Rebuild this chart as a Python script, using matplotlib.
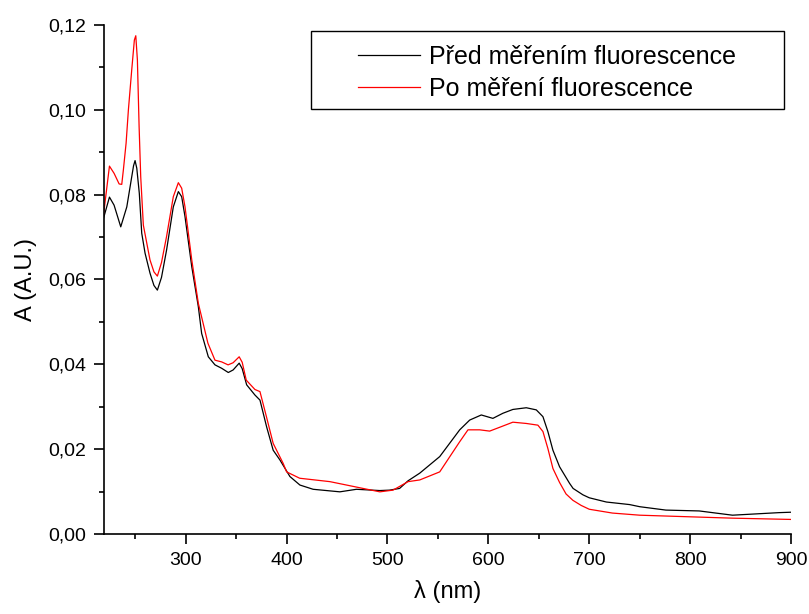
import numpy as np
import matplotlib.pyplot as plt
from matplotlib.ticker import MultipleLocator, FuncFormatter
from matplotlib.patches import Rectangle

plt.rcParams['font.family'] = ['Liberation Sans', 'DejaVu Sans']

# spectrum before fluorescence measurement (black)
wl_pred = [218.5, 224.4, 229, 235.6, 241.6, 246.5, 248.3, 249.8, 251.5, 254, 256.4, 259.7, 264.6,
           268.5, 271.9, 276, 281, 287.7, 292.7, 296, 299.3, 306, 312.5, 315.8, 322.4, 329, 335.6,
           342.2, 347, 353, 356, 360.4, 368.6, 373.6, 380.2, 386.7, 393.4, 403.3, 413.2,
           426.3, 452.8, 469.3, 492.4, 502, 512, 520.4, 532, 551.8, 571.6, 581.5, 593,
           604.5, 614.4, 624.3, 637.6, 647.5, 654.1, 659, 664, 670.6, 680.5, 684, 693.7, 700,
           717, 740, 750, 776, 809, 842, 888, 900]
a_pred = [0.0744, 0.0794, 0.0775, 0.0724, 0.0771, 0.0842, 0.0868, 0.0880, 0.0862, 0.0803, 0.0709, 0.0662, 0.0615,
          0.0586, 0.0575, 0.0605, 0.0669, 0.0771, 0.0807, 0.0795, 0.0748, 0.0630, 0.0536, 0.0473, 0.0418, 0.0399, 0.0391,
          0.0381, 0.0387, 0.0403, 0.0390, 0.0352, 0.0328, 0.0316, 0.0253, 0.0198, 0.0175, 0.0136, 0.0116,
          0.0106, 0.0100, 0.0106, 0.0103, 0.0104, 0.0108, 0.0126, 0.0144, 0.0183, 0.0246, 0.0269, 0.0281,
          0.0273, 0.0285, 0.0294, 0.0298, 0.0293, 0.0277, 0.0242, 0.0198, 0.0159, 0.0120, 0.0108, 0.0093, 0.0086,
          0.0076, 0.0070, 0.0065, 0.0057, 0.0055, 0.0045, 0.0051, 0.0052]

# spectrum after fluorescence measurement (red)
wl_po = [218.5, 224.4, 229, 234, 236.6, 238.2, 240.9, 243.2, 246.5, 249.1, 250.5, 252.1,
         253.8, 255.4, 258, 264.6, 268.5, 271.9, 276, 281, 287.7, 292.7, 296, 299.3, 306, 312.5, 322,
         329, 335.6, 342, 347, 353, 356, 360, 368.6, 373.6, 380, 386.7, 396.6, 400, 413,
         442.9, 459.4, 475.8, 492.4, 505.5, 520.4, 532, 551.8, 571.6, 579.8, 591.4,
         601.3, 611.2, 624.3, 637.6, 649.1, 654.1, 659, 664, 670.6, 677, 683.8, 692, 700,
         723, 750, 776, 842, 900]
a_po = [0.0752, 0.0867, 0.0850, 0.0825, 0.0824, 0.0858, 0.0921, 0.1000, 0.1094, 0.1164, 0.1174, 0.1117,
        0.0960, 0.0842, 0.0728, 0.0646, 0.0618, 0.0608, 0.0640, 0.0701, 0.0795, 0.0828, 0.0815, 0.0771, 0.0646, 0.0544, 0.0450,
        0.0410, 0.0406, 0.0399, 0.0404, 0.0418, 0.0405, 0.0363, 0.0341, 0.0336, 0.0277, 0.0214, 0.0167, 0.0147, 0.0132,
        0.0124, 0.0116, 0.0108, 0.0100, 0.0104, 0.0124, 0.0128, 0.0147, 0.0218, 0.0246, 0.0246,
        0.0243, 0.0252, 0.0264, 0.0261, 0.0257, 0.0242, 0.0202, 0.0155, 0.0122, 0.0095, 0.0080, 0.0068, 0.0059,
        0.0050, 0.0045, 0.0043, 0.0038, 0.0035]

labels = ['Před měřením fluorescence', 'Po měření fluorescence']

fig = plt.figure(figsize=(8.09, 6.14), dpi=100)
ax = fig.add_axes([104/809, 1-534.3/614, 687/809, 509.6/614])

l1, = ax.plot(wl_pred, a_pred, color='black', lw=0.9)
l2, = ax.plot(wl_po, a_po, color='red', lw=0.9)

ax.set_xlim(219, 900)
ax.set_ylim(0, 0.12)
ax.xaxis.set_major_locator(MultipleLocator(100))
ax.xaxis.set_minor_locator(MultipleLocator(50))
ax.yaxis.set_major_locator(MultipleLocator(0.02))
ax.yaxis.set_minor_locator(MultipleLocator(0.01))
ax.yaxis.set_major_formatter(FuncFormatter(lambda v, p: f'{v:.2f}'.replace('.', ',')))
ax.xaxis.set_major_formatter(FuncFormatter(lambda v, p: f'{v:.0f}'))

for s in ['top', 'right']:
    ax.spines[s].set_visible(False)
for s in ['left', 'bottom']:
    ax.spines[s].set_linewidth(1.2)
ax.tick_params(which='major', direction='out', length=7, width=1.2, labelsize=14, pad=6)
ax.tick_params(which='minor', direction='out', length=3.5, width=1.2)

ax.set_xlabel('λ (nm)', fontsize=17, labelpad=8)
ax.set_ylabel('A (A.U.)', fontsize=17, labelpad=8)

# legend box
ax.add_patch(Rectangle((0.301, 0.8346), 0.689, 0.1531, transform=ax.transAxes,
                       fill=False, edgecolor='black', lw=1.0, clip_on=False))
ax.legend([l1, l2], labels, loc='upper left', bbox_to_anchor=(0.3697, 0.961),
          frameon=False, fontsize=18, handlelength=2.5, handletextpad=0.35,
          labelspacing=0.33, borderpad=0, borderaxespad=0)

fig.savefig('out.png', dpi=100)
